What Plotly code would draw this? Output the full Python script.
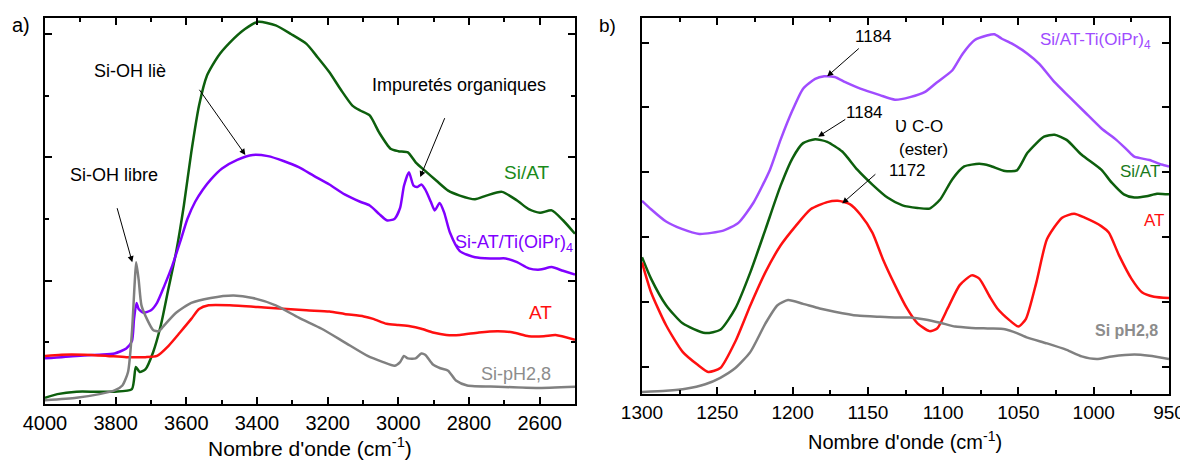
import plotly.graph_objects as go
from plotly.subplots import make_subplots

# ---- panel a) : 4000-2500 cm-1 ----
wn_siat_a = [4000, 3965, 3911, 3857, 3803, 3754, 3743, 3732, 3716, 3694, 3672, 3651, 3629, 3607, 3586, 3564,
             3542, 3510, 3477, 3434, 3396, 3347, 3304, 3260, 3228, 3195, 3163, 3130, 3108, 3081, 3054, 3022,
             3000, 2973, 2951, 2924, 2892, 2859, 2826, 2783, 2751, 2707, 2664, 2631, 2599, 2566, 2534, 2500]
ab_siat_a = [0.05, 0.08, 0.10, 0.10, 0.10, 0.12, 0.30, 0.26, 0.28, 0.42, 0.64, 0.93, 1.23, 1.61, 2.04, 2.42,
             2.66, 2.82, 2.93, 3.04, 3.10, 3.07, 3.00, 2.92, 2.81, 2.69, 2.55, 2.42, 2.38, 2.34, 2.20, 2.07,
             2.05, 2.04, 1.96, 1.89, 1.81, 1.73, 1.69, 1.66, 1.69, 1.72, 1.65, 1.58, 1.55, 1.57, 1.49, 1.38]

wn_ti_a = [4000, 3911, 3846, 3803, 3770, 3754, 3748, 3741, 3735, 3721, 3700, 3683, 3662, 3640, 3618, 3597,
           3575, 3553, 3531, 3499, 3456, 3412, 3369, 3325, 3282, 3239, 3195, 3152, 3108, 3081, 3054, 3033,
           3011, 2995, 2984, 2970, 2957, 2946, 2935, 2924, 2908, 2897, 2883, 2870, 2854, 2826, 2783, 2740,
           2718, 2696, 2664, 2631, 2599, 2566, 2534, 2500]
ab_ti_a = [0.37, 0.39, 0.40, 0.41, 0.45, 0.51, 0.69, 0.82, 0.77, 0.74, 0.76, 0.82, 0.96, 1.12, 1.31, 1.50,
           1.64, 1.74, 1.82, 1.91, 1.98, 2.02, 2.01, 1.97, 1.92, 1.85, 1.78, 1.70, 1.64, 1.61, 1.54, 1.49,
           1.50, 1.59, 1.77, 1.88, 1.77, 1.76, 1.78, 1.74, 1.64, 1.57, 1.63, 1.55, 1.39, 1.24, 1.19, 1.18,
           1.18, 1.18, 1.15, 1.10, 1.09, 1.11, 1.08, 1.05]

wn_at_a = [4000, 3954, 3889, 3824, 3770, 3716, 3683, 3651, 3618, 3586, 3564, 3537, 3477, 3369, 3260, 3195,
           3152, 3098, 3071, 3033, 3000, 2967, 2935, 2902, 2864, 2826, 2772, 2718, 2675, 2631, 2588, 2555, 2500]
ab_at_a = [0.39, 0.40, 0.40, 0.39, 0.38, 0.38, 0.39, 0.47, 0.58, 0.69, 0.77, 0.80, 0.80, 0.78, 0.76, 0.75,
           0.73, 0.71, 0.69, 0.65, 0.64, 0.63, 0.61, 0.58, 0.56, 0.56, 0.58, 0.59, 0.58, 0.55, 0.55, 0.56, 0.52]

wn_si_a = [4000, 3911, 3846, 3803, 3781, 3765, 3754, 3746, 3742, 3735, 3727, 3710, 3694, 3678, 3662, 3629,
           3586, 3531, 3466, 3412, 3347, 3282, 3217, 3152, 3087, 3043, 3011, 2995, 2984, 2973, 2951, 2935,
           2924, 2902, 2881, 2859, 2837, 2805, 2718, 2610, 2500]
ab_si_a = [0.03, 0.05, 0.08, 0.11, 0.15, 0.26, 0.58, 0.99, 1.15, 1.01, 0.80, 0.68, 0.60, 0.59, 0.64, 0.74,
           0.82, 0.86, 0.88, 0.86, 0.80, 0.70, 0.61, 0.50, 0.39, 0.34, 0.31, 0.34, 0.39, 0.37, 0.37, 0.41,
           0.40, 0.32, 0.29, 0.27, 0.19, 0.15, 0.14, 0.13, 0.14]

# ---- panel b) : 1300-950 cm-1 ----
wn_ti_b = [1300, 1294, 1284, 1274, 1262, 1246, 1236, 1226, 1215, 1208, 1200, 1193, 1185, 1179, 1172, 1165,
           1155, 1142, 1132, 1122, 1112, 1104, 1094, 1087, 1079, 1071, 1066, 1061, 1054, 1044, 1036, 1026,
           1016, 1006, 995, 985, 978, 973, 963, 955, 950]
ab_ti_b = [2.56, 2.43, 2.24, 2.13, 2.05, 2.10, 2.22, 2.53, 3.04, 3.50, 3.96, 4.29, 4.44, 4.48, 4.47, 4.39,
           4.29, 4.19, 4.12, 4.16, 4.24, 4.39, 4.57, 4.83, 5.04, 5.11, 5.13, 5.06, 4.98, 4.83, 4.67, 4.39,
           4.16, 3.93, 3.68, 3.50, 3.35, 3.24, 3.19, 3.12, 3.09]

wn_siat_b = [1300, 1294, 1284, 1273, 1258, 1248, 1238, 1228, 1218, 1208, 1200, 1193, 1185, 1177, 1167, 1157,
             1147, 1137, 1127, 1117, 1109, 1102, 1094, 1086, 1076, 1069, 1059, 1051, 1044, 1033, 1026, 1018,
             1008, 995, 988, 980, 973, 965, 958, 950]
ab_siat_b = [1.69, 1.36, 0.95, 0.67, 0.52, 0.57, 0.90, 1.46, 2.12, 2.79, 3.22, 3.45, 3.51, 3.47, 3.32, 3.04,
             2.81, 2.61, 2.49, 2.45, 2.44, 2.58, 2.89, 3.09, 3.13, 3.10, 3.02, 3.03, 3.30, 3.55, 3.58, 3.50,
             3.27, 3.04, 2.84, 2.66, 2.61, 2.63, 2.67, 2.66]

wn_at_b = [1300, 1294, 1284, 1273, 1263, 1256, 1248, 1238, 1228, 1218, 1208, 1198, 1188, 1177, 1170, 1162,
           1155, 1147, 1140, 1132, 1124, 1117, 1109, 1104, 1097, 1089, 1081, 1076, 1069, 1064, 1056, 1050,
           1045, 1038, 1031, 1021, 1013, 1006, 995, 990, 983, 975, 968, 960, 950]
ab_at_b = [1.61, 1.15, 0.64, 0.23, 0.03, -0.08, -0.02, 0.39, 0.95, 1.46, 1.87, 2.17, 2.43, 2.54, 2.56, 2.51,
           2.35, 2.07, 1.66, 1.26, 0.90, 0.67, 0.55, 0.59, 0.90, 1.26, 1.41, 1.36, 1.08, 0.90, 0.72, 0.62,
           0.74, 1.31, 1.97, 2.30, 2.36, 2.30, 2.17, 2.07, 1.71, 1.36, 1.15, 1.08, 1.06]

wn_si_b = [1300, 1284, 1271, 1258, 1248, 1238, 1228, 1218, 1210, 1203, 1193, 1182, 1172, 1157, 1142, 1132,
           1122, 1112, 1102, 1092, 1081, 1069, 1059, 1051, 1044, 1031, 1018, 1008, 998, 988, 973, 963, 950]
ab_si_b = [-0.39, -0.37, -0.34, -0.27, -0.17, -0.02, 0.23, 0.67, 0.95, 1.03, 0.97, 0.90, 0.85, 0.79, 0.77, 0.76,
           0.76, 0.73, 0.68, 0.62, 0.60, 0.59, 0.58, 0.52, 0.45, 0.36, 0.26, 0.16, 0.12, 0.16, 0.19, 0.17, 0.12]

GREEN = '#0d5f0d'
PURPLE_A = '#8000ff'
PURPLE_B = '#a04cff'
RED = '#ff1010'
GREY = '#808080'
FONT = 'Liberation Sans, Arial, sans-serif'

# the page has an 8px body margin, so the figure is made 8px smaller and positions shifted
W, H = 1180, 452


def px(x):
    return (x - 8) / W


def py(y):
    return 1 - (y - 8) / H


fig = make_subplots(rows=1, cols=2)

for x, y, color in [(wn_siat_a, ab_siat_a, GREEN), (wn_ti_a, ab_ti_a, PURPLE_A),
                    (wn_at_a, ab_at_a, RED), (wn_si_a, ab_si_a, GREY)]:
    fig.add_trace(go.Scatter(x=x, y=y, mode='lines', line=dict(color=color, width=2.5, shape='spline', smoothing=0.6),
                             showlegend=False), row=1, col=1)

for x, y, color in [(wn_ti_b, ab_ti_b, PURPLE_B), (wn_siat_b, ab_siat_b, GREEN),
                    (wn_at_b, ab_at_b, RED), (wn_si_b, ab_si_b, GREY)]:
    fig.add_trace(go.Scatter(x=x, y=y, mode='lines', line=dict(color=color, width=2.5, shape='spline', smoothing=0.6),
                             showlegend=False), row=1, col=2)

axis_style = dict(showline=True, linecolor='black', linewidth=2, mirror='ticks', ticks='inside',
                  tickwidth=2, tickcolor='black', showgrid=False, zeroline=False, automargin=False)

fig.update_xaxes(axis_style)
fig.update_yaxes(axis_style)
fig.update_xaxes(domain=[px(45), px(575)], range=[4000, 2500], tick0=4000, dtick=200, ticklen=7,
                 minor=dict(ticks='inside', dtick=100, ticklen=4, tickwidth=2, tickcolor='black'),
                 tickfont=dict(family=FONT, size=20, color='black'), row=1, col=1)
fig.update_xaxes(domain=[px(642), px(1169)], range=[1300, 950], tick0=1300, dtick=50, ticklen=7,
                 minor=dict(ticks='inside', dtick=25, ticklen=4, tickwidth=2, tickcolor='black'),
                 tickfont=dict(family=FONT, size=19, color='black'), row=1, col=2)
fig.update_yaxes(domain=[py(404), py(18)], range=[0, 3.13], dtick=1, ticklen=7, showticklabels=False,
                 minor=dict(ticks='inside', dtick=0.5, ticklen=4, tickwidth=2, tickcolor='black'), row=1, col=1)
fig.update_yaxes(domain=[py(394), py(18)], range=[-0.42, 5.38], dtick=1, ticklen=7,
                 showticklabels=False, row=1, col=2)

notes = []


def label(text, x, y, xref, yref, size, color='black', bold=False):
    if bold:
        text = '<b>' + text + '</b>'
    notes.append(dict(text=text, x=x, y=y, xref=xref, yref=yref, showarrow=False,
                      xanchor='center', yanchor='middle',
                      font=dict(family=FONT, size=size, color=color)))


def arrow(x0, y0, x1, y1, xref, yref):
    notes.append(dict(text='', x=x1, y=y1, ax=x0, ay=y0, xref=xref, yref=yref, axref=xref, ayref=yref,
                      showarrow=True, arrowhead=2, arrowsize=1.2, arrowwidth=1, arrowcolor='black'))


# panel a labels
label('a)', px(21), py(25), 'paper', 'paper', 20)
label('Si-OH liè', 3759, 2.70, 'x', 'y', 18)
label('Si-OH libre', 3804, 1.86, 'x', 'y', 18)
label('Impuretés organiques', 2829, 2.59, 'x', 'y', 18)
label('Si/AT', 2636, 1.88, 'x', 'y', 19, '#1a8a1a')
label('Si-AT/Ti(OiPr)<sub>4</sub>', 2674, 1.30, 'x', 'y', 18, PURPLE_A)
label('AT', 2598, 0.74, 'x', 'y', 19, RED)
label('Si-pH2,8', 2666, 0.24, 'x', 'y', 18, '#8c8c8c')
arrow(3797, 1.60, 3753, 1.15, 'x', 'y')
arrow(3566, 2.56, 3433, 2.02, 'x', 'y')
arrow(2867, 2.33, 2938, 1.84, 'x', 'y')
label("Nombre d'onde (cm<sup>-1</sup>)", px(310), py(447), 'paper', 'paper', 21)

# panel b labels
label('b)', px(607), py(25), 'paper', 'paper', 19)
label('1184', 1146, 5.09, 'x2', 'y2', 17)
label('1184', 1152, 3.93, 'x2', 'y2', 17)
label('Ʋ C-O', 1116, 3.70, 'x2', 'y2', 17)
label('(ester)', 1113, 3.35, 'x2', 'y2', 17)
label('1172', 1124, 3.03, 'x2', 'y2', 17)
label('Si/AT-Ti(OiPr)<sub>4</sub>', 999, 5.03, 'x2', 'y2', 17, PURPLE_B)
label('Si/AT', 969, 3.01, 'x2', 'y2', 17, '#1a7a1a')
label('AT', 960, 2.25, 'x2', 'y2', 17, RED)
label('Si pH2,8', 978, 0.56, 'x2', 'y2', 16, '#8c8c8c', bold=True)
arrow(1155, 4.93, 1177, 4.48, 'x2', 'y2')
arrow(1164, 3.83, 1183, 3.55, 'x2', 'y2')
arrow(1144, 2.99, 1167, 2.52, 'x2', 'y2')
label("Nombre d'onde (cm<sup>-1</sup>)", px(905), py(440), 'paper', 'paper', 20)

fig.update_layout(width=W, height=H, margin=dict(l=0, r=0, t=0, b=0),
                  plot_bgcolor='white', paper_bgcolor='white', annotations=notes,
                  font=dict(family=FONT, color='black'))

fig.write_html("out.html")
